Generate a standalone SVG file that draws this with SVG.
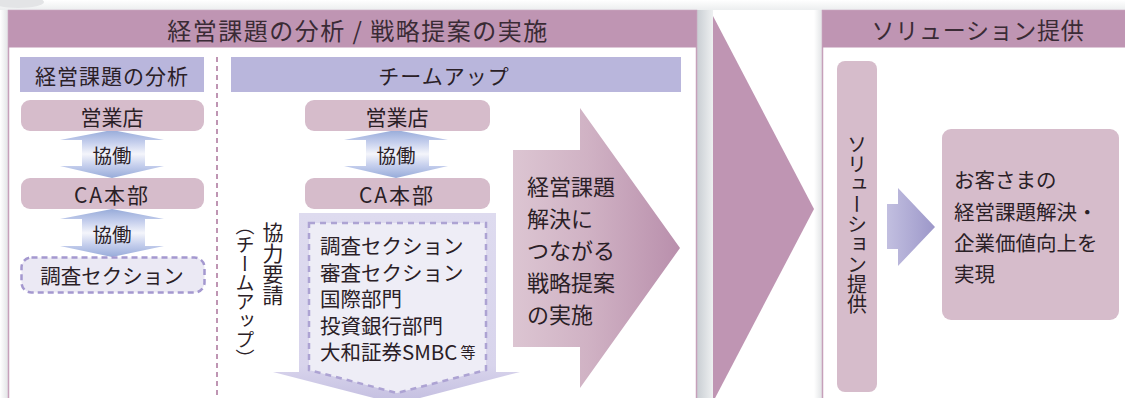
<svg xmlns="http://www.w3.org/2000/svg" width="1125" height="398" viewBox="0 0 1125 398">
<defs>
<style>
.t{font-family:"Noto Sans CJK JP","Noto Sans",sans-serif;fill:#2a2026;}
.hd{font-size:24px;text-anchor:middle;dominant-baseline:central;fill:#3a2b35;letter-spacing:1.5px;}
.c{text-anchor:middle;dominant-baseline:central;font-size:21px;}
.l{font-size:20.5px;dominant-baseline:central;}
.v{writing-mode:vertical-rl;font-size:20px;}
.pink{fill:#d6bccb;}
.lav{fill:#b9b6dc;}
.hdr{fill:#bf95b3;}
</style>
<linearGradient id="dbl" x1="0" y1="0" x2="0" y2="1">
<stop offset="0" stop-color="#97abd9"/>
<stop offset="0.25" stop-color="#c3cdec"/>
<stop offset="0.5" stop-color="#f4f5fb"/>
<stop offset="0.75" stop-color="#c3cdec"/>
<stop offset="1" stop-color="#97abd9"/>
</linearGradient>
<linearGradient id="strat" x1="0" y1="0" x2="1" y2="0">
<stop offset="0" stop-color="#dcc5d2"/>
<stop offset="0.45" stop-color="#d0b2c4"/>
<stop offset="1" stop-color="#b98fac"/>
</linearGradient>
<linearGradient id="small" x1="0" y1="0" x2="1" y2="0">
<stop offset="0" stop-color="#c2bfe0"/>
<stop offset="1" stop-color="#9c97c9"/>
</linearGradient>
<linearGradient id="shR" x1="0" y1="0" x2="1" y2="0">
<stop offset="0" stop-color="#c9ced3"/>
<stop offset="1" stop-color="#eef0f1"/>
</linearGradient>
<linearGradient id="shL" x1="1" y1="0" x2="0" y2="0">
<stop offset="0" stop-color="#e2e4e6"/>
<stop offset="1" stop-color="#ffffff"/>
</linearGradient>
<linearGradient id="shT" x1="0" y1="1" x2="0" y2="0">
<stop offset="0" stop-color="#eceeef"/>
<stop offset="1" stop-color="#ffffff"/>
</linearGradient>
<linearGradient id="downA" x1="0" y1="0" x2="0" y2="1">
<stop offset="0" stop-color="#dedbef"/>
<stop offset="0.8" stop-color="#d8d4ec"/>
<stop offset="1" stop-color="#c3bee0"/>
</linearGradient>
</defs>

<g id="background">
<rect x="0" y="0" width="1125" height="10" fill="url(#shT)"/>
<ellipse cx="18" cy="2" rx="26" ry="6" fill="#e3e4e6"/>
<rect x="0" y="10" width="8" height="388" fill="url(#shL)"/>
<rect x="697" y="10" width="16" height="388" fill="url(#shR)"/>
<rect x="814" y="10" width="8" height="388" fill="url(#shL)"/>
</g>

<g id="panel-left">
<rect x="8.5" y="10.5" width="688" height="400" fill="#ffffff" stroke="#c6a0ba" stroke-width="1.5"/>
<rect x="8.5" y="10.5" width="688" height="37" class="hdr"/>
<text class="t hd" x="358" y="29">経営課題の分析 / 戦略提案の実施</text>
</g>

<g id="chevron">
<polygon points="713,16 814,209 713,402" fill="#bf95b3"/>
</g>

<g id="panel-right">
<rect x="822.5" y="10.5" width="310" height="400" fill="#ffffff" stroke="#c6a0ba" stroke-width="1.5"/>
<rect x="822.5" y="10.5" width="310" height="37" class="hdr"/>
<text class="t hd" x="978" y="29" style="font-size:23px;letter-spacing:0.7px">ソリューション提供</text>
</g>

<g id="divider">
<line x1="217" y1="57" x2="217" y2="398" stroke="#bf95b3" stroke-width="2" stroke-dasharray="5,4"/>
</g>

<g id="sub-analysis">
<rect x="20" y="57" width="184" height="35" class="lav"/>
<text class="t c" x="112" y="75" style="font-size:21px;letter-spacing:1px">経営課題の分析</text>
</g>
<g id="sub-teamup">
<rect x="231" y="57" width="450" height="35" class="lav"/>
<text class="t c" x="444" y="75" style="font-size:21px;letter-spacing:1px">チームアップ</text>
</g>

<g id="connectors">
<path d="M112,130 L164,140 L145,140 L145,166 L164,166 L112,178 L60,166 L82,166 L82,140 L60,140 Z" fill="url(#dbl)"/>
<path d="M112,209 L164,219 L145,219 L145,246 L164,246 L112,257 L60,246 L82,246 L82,219 L60,219 Z" fill="url(#dbl)"/>
<path d="M396,130 L448,140 L429,140 L429,166 L448,166 L396,178 L344,166 L366,166 L366,140 L344,140 Z" fill="url(#dbl)"/>
<text class="t c" x="112" y="154" style="font-size:19.5px">協働</text>
<text class="t c" x="112" y="233" style="font-size:19.5px">協働</text>
<text class="t c" x="396" y="154" style="font-size:19.5px">協働</text>
<path d="M887,204 L898,204 L898,188 L935,227 L898,266 L898,249 L887,249 Z" fill="url(#small)"/>
</g>

<g id="node-eigyo-left">
<rect x="21" y="100" width="183" height="31" rx="9" class="pink"/>
<text class="t c" x="112" y="116">営業店</text>
</g>
<g id="node-ca-left">
<rect x="21" y="178" width="183" height="31" rx="9" class="pink"/>
<text class="t c" x="112" y="194" style="letter-spacing:2px">CA本部</text>
</g>
<g id="node-chosa-left">
<rect x="21.5" y="257.5" width="183" height="35" rx="10" fill="#ebe9f4" stroke="#a498cf" stroke-width="2.5" stroke-dasharray="6,4"/>
<text class="t c" x="112" y="275" style="font-size:20.5px">調査セクション</text>
</g>

<g id="node-eigyo-mid">
<rect x="305" y="100" width="185" height="31" rx="9" class="pink"/>
<text class="t c" x="397" y="116">営業店</text>
</g>
<g id="node-ca-mid">
<rect x="305" y="178" width="185" height="31" rx="9" class="pink"/>
<text class="t c" x="397" y="194" style="letter-spacing:2px">CA本部</text>
</g>

<g id="request-label">
<text class="t v" x="273" y="222" style="font-size:21px">協力要請</text>
<text class="t v" x="245" y="216" style="font-size:19px">（チームアップ）</text>
</g>

<g id="node-teams">
<path d="M299,213 L496,213 L496,372 L520,372 L397,404 L273,372 L299,372 Z" fill="url(#downA)"/>
<path d="M309,223 L486,223 L486,370 L397,393 L309,370 Z" fill="#eeedf6" stroke="#ada3d3" stroke-width="2.5" stroke-dasharray="6,5"/>
<text class="t l" x="320" y="245">調査セクション</text>
<text class="t l" x="320" y="271.5">審査セクション</text>
<text class="t l" x="320" y="298">国際部門</text>
<text class="t l" x="320" y="324.5">投資銀行部門</text>
<text class="t l" x="320" y="351">大和証券SMBC<tspan style="font-size:15px" dx="3">等</tspan></text>
</g>

<g id="node-strategy">
<path d="M513,150 L580,150 L580,108 L680,248 L580,388 L580,347 L513,347 Z" fill="url(#strat)"/>
<text class="t l" x="527" y="185" style="font-size:22px">経営課題</text>
<text class="t l" x="527" y="217" style="font-size:22px">解決に</text>
<text class="t l" x="527" y="249" style="font-size:22px">つながる</text>
<text class="t l" x="527" y="281" style="font-size:22px">戦略提案</text>
<text class="t l" x="527" y="313" style="font-size:22px">の実施</text>
</g>

<g id="node-solution">
<rect x="837" y="61" width="40" height="331" rx="8" class="pink"/>
<text class="t v" x="857" y="134" style="font-size:20px">ソリューション提供</text>
</g>

<g id="node-result">
<rect x="942" y="129" width="177" height="191" rx="9" class="pink"/>
<text class="t l" x="954" y="179">お客さまの</text>
<text class="t l" x="954" y="211">経営課題解決・</text>
<text class="t l" x="954" y="242">企業価値向上を</text>
<text class="t l" x="954" y="273">実現</text>
</g>
</svg>
